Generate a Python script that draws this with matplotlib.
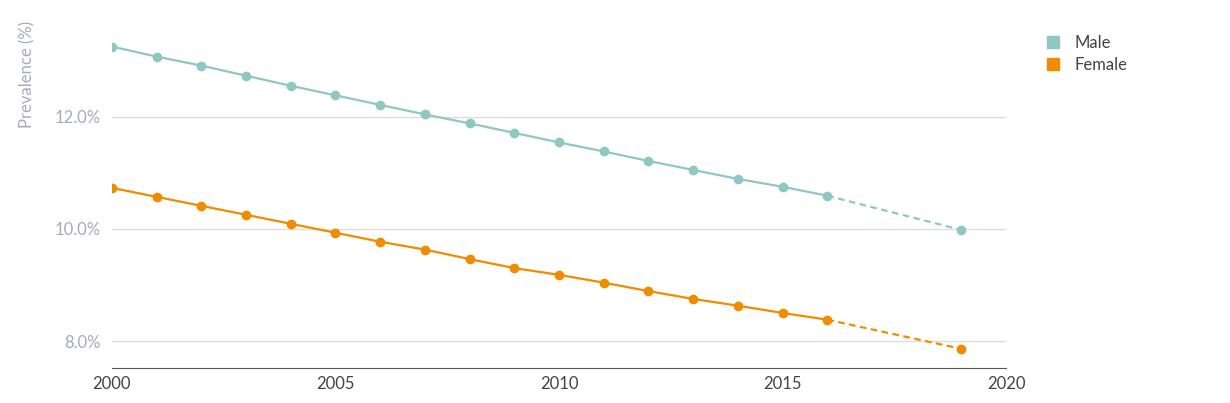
import numpy as np
import matplotlib.pyplot as plt
from matplotlib.lines import Line2D

years = list(range(2000, 2017))
male = [13.25, 13.07, 12.91, 12.73, 12.55, 12.38, 12.21, 12.04, 11.88, 11.71,
        11.54, 11.38, 11.21, 11.05, 10.89, 10.75, 10.59]
female = [10.73, 10.57, 10.41, 10.25, 10.09, 9.93, 9.77, 9.63, 9.46, 9.30,
          9.18, 9.04, 8.89, 8.75, 8.63, 8.50, 8.38]
proj_year = 2019
male_proj = 9.98
female_proj = 7.86

c_male = '#8fc7c4'
c_female = '#ef8c00'
grey = '#a3acbd'

plt.rcParams['font.family'] = ['Lato', 'DejaVu Sans']
fig = plt.figure(figsize=(12.3, 4.03), dpi=100)
ax = fig.add_axes([0.091, 0.087, 0.727, 0.888])

for vals, proj, c in [(male, male_proj, c_male), (female, female_proj, c_female)]:
    ax.plot(years, vals, color=c, lw=1.6, marker='o', ms=6, zorder=3)
    ax.plot([years[-1], proj_year], [vals[-1], proj], color=c, lw=1.6, ls=(0, (3, 2)), zorder=3)
    ax.plot([proj_year], [proj], color=c, marker='o', ms=6, zorder=3)

ax.set_xlim(2000, 2020)
ax.set_ylim(7.52, 13.9)
ax.set_xticks([2000, 2005, 2010, 2015, 2020])
ax.set_yticks([8, 10, 12])
ax.set_yticklabels(['8.0%', '10.0%', '12.0%'])
ax.grid(axis='y', color='#dddddd', lw=1)
ax.set_axisbelow(True)
for s in ['top', 'right', 'left']:
    ax.spines[s].set_visible(False)
ax.spines['bottom'].set_color('#555555')
ax.tick_params(axis='y', length=0, labelsize=12, labelcolor=grey, pad=8)
ax.tick_params(axis='x', length=0, labelsize=12, labelcolor='#444444', pad=6)
ax.set_ylabel('Prevalence (%)', color=grey, fontsize=12, labelpad=14)
ax.yaxis.set_label_coords(-0.085, 0.82)

handles = [Line2D([], [], ls='', marker='s', ms=8, color=c_male),
           Line2D([], [], ls='', marker='s', ms=8, color=c_female)]
fig.legend(handles, ['Male', 'Female'], loc='upper left', bbox_to_anchor=(0.83, 0.95),
           frameon=False, fontsize=12, handletextpad=0.3, labelspacing=0.35,
           labelcolor='#444444')

fig.savefig('out.png', dpi=100)
